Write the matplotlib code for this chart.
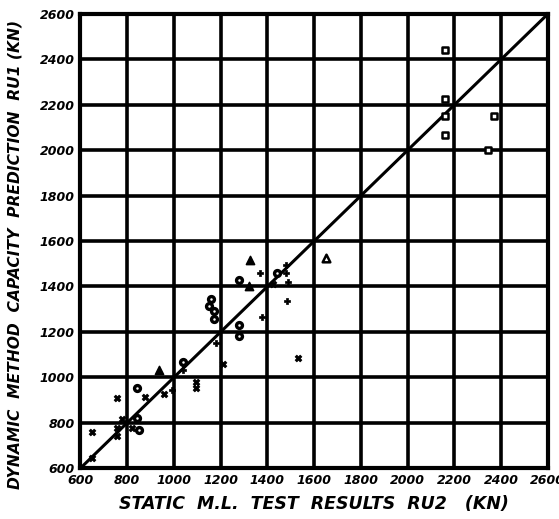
import matplotlib
matplotlib.use("Agg")
import matplotlib.pyplot as plt

# ---- data (static RU2, dynamic RU1), in kN ----
sq_x = [2160, 2160, 2160, 2160, 2370, 2345]
sq_y = [2440, 2225, 2150, 2065, 2150, 2000]

circ_x = [1280, 1440, 1160, 1150, 1170, 1170, 1280, 1280, 1040, 840, 843, 850]
circ_y = [1430, 1460, 1345, 1315, 1290, 1255, 1230, 1180, 1068, 955, 820, 770]

tri_f_x = [1325, 1320, 935]
tri_f_y = [1515, 1400, 1032]

tri_o_x = [1650]
tri_o_y = [1525]

plus_x = [1370, 1480, 1480, 1490, 1485, 1375, 1180, 1040, 990]
plus_y = [1460, 1495, 1460, 1420, 1335, 1265, 1150, 1032, 945]

cross_x = [1425, 1210, 1530, 1095, 1095, 755, 875, 958, 820, 757, 757, 648, 650, 776]
cross_y = [1410, 1060, 1085, 980, 955, 910, 915, 926, 778, 775, 740, 760, 643, 818]

ticks = [600, 800, 1000, 1200, 1400, 1600, 1800, 2000, 2200, 2400, 2600]
tick_labels = [str(t) for t in ticks]

fig = plt.figure(figsize=(5.59, 5.19), dpi=100)
ax = fig.add_axes([0.144, 0.098, 0.836, 0.875])
ax.set_xlim(600, 2600)
ax.set_ylim(600, 2600)

ax.set_xticks(ticks)
ax.set_yticks(ticks)
font = dict(family="DejaVu Sans", weight="bold", style="italic", size=9)
ax.set_xticklabels(tick_labels, **font)
ax.set_yticklabels(tick_labels, **font)
ax.tick_params(length=0, pad=4)
ax.grid(True, color="black", linewidth=2.6)
ax.set_axisbelow(True)
for s in ax.spines.values():
    s.set_linewidth(3.0)
    s.set_color("black")

ax.plot([600, 2600], [600, 2600], color="black", linewidth=2.2, zorder=3)

ax.scatter(sq_x, sq_y, marker="s", s=18, facecolors="white", edgecolors="black", linewidths=1.8, zorder=4)
ax.scatter(circ_x, circ_y, marker="o", s=18, facecolors="white", edgecolors="black", linewidths=2.4, zorder=4)
ax.scatter(tri_f_x, tri_f_y, marker="^", s=34, facecolors="black", edgecolors="black", linewidths=1.2, zorder=4)
ax.scatter(tri_o_x, tri_o_y, marker="^", s=30, facecolors="white", edgecolors="black", linewidths=1.8, zorder=4)
ax.scatter(plus_x, plus_y, marker="P", s=24, facecolors="black", edgecolors="black", linewidths=0.5, zorder=4)
ax.scatter(cross_x, cross_y, marker="X", s=24, facecolors="black", edgecolors="black", linewidths=0.5, zorder=4)

ax.set_xlabel("STATIC  M.L.  TEST  RESULTS  RU2   (KN)", family="DejaVu Sans",
              weight="bold", style="italic", size=12.5, labelpad=6)
ax.set_ylabel("DYNAMIC  METHOD  CAPACITY  PREDICTION  RU1 (KN)", family="DejaVu Sans",
              weight="bold", style="italic", size=11.2)
ax.yaxis.set_label_coords(-0.125, 0.47)

fig.savefig("out.png", dpi=100)
